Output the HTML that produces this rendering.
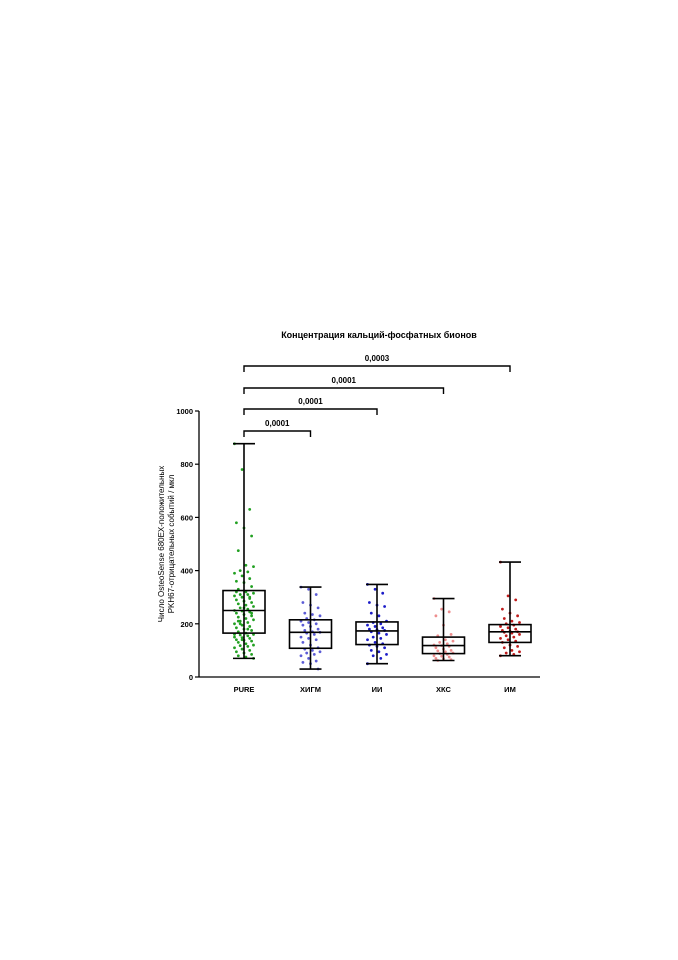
<!DOCTYPE html>
<html><head><meta charset="utf-8">
<style>
html,body{margin:0;padding:0;background:#fff;}
svg{display:block;font-family:"Liberation Sans",sans-serif;}
</style></head>
<body>
<svg id="chart" width="678" height="960" viewBox="0 0 678 960">
<text x="379" y="338" text-anchor="middle" font-size="9" font-weight="bold">Концентрация кальций-фосфатных бионов</text>
<text transform="translate(164,544) rotate(-90)" text-anchor="middle" font-size="8"><tspan x="0" dy="0">Число OsteoSense 680EX-положительных</tspan><tspan x="0" dy="10">PKH67-отрицательных событий / мкл</tspan></text>
<g id="plot"></g>
</svg>
<script>
const categories = ["PURE","ХИГМ","ИИ","ХКС","ИМ"];
const colors = ["#22a022","#5b5bd6","#1c1cc8","#ee8e8e","#c01c1c"];
const mins = [70,30,50,62,80];
const q1s = [165,108,122,88,130];
const medians = [250,168,173,118,170];
const q3s = [325,215,207,150,197];
const maxs = [877,338,348,295,432];
const yTicks = [0,200,400,600,800,1000];
const pure = [877,780,630,580,560,530,475,420,415,400,395,390,380,370,360,355,340,330,320,315,310,310,305,300,295,290,285,280,275,270,265,260,255,250,248,245,240,235,230,225,220,215,210,205,200,195,190,185,180,175,170,165,160,158,155,150,148,145,140,138,135,130,125,120,118,115,110,105,100,95,90,85,80,75,70,200,180,160,140,300,320,260,240,210];
const higm = [338,330,310,280,270,260,240,235,230,220,215,210,205,200,195,190,180,175,170,168,165,160,150,145,140,130,120,110,105,100,95,90,85,80,70,60,55,50,30];
const ii = [348,330,315,280,270,265,240,230,210,205,200,195,190,185,180,178,175,170,165,160,150,145,140,130,125,120,115,110,100,95,85,80,70,50];
const hks = [295,255,245,230,195,160,155,140,135,130,125,120,118,115,110,105,100,98,95,90,88,85,80,78,75,70,68,65,62];
const im = [432,305,290,255,240,230,220,210,205,200,195,190,185,180,175,172,170,168,165,160,155,150,145,140,135,130,120,115,110,100,95,90,85,80];
const pointSets = [pure,higm,ii,hks,im];
const brackets = [[0,1,"0,0001"],[0,2,"0,0001"],[0,3,"0,0001"],[0,4,"0,0003"]];

const NS="http://www.w3.org/2000/svg";
const g=document.getElementById('plot');
const y0=677,y1=411,x0=199,xStart=244,xStep=66.5,hw=21;
const yS=v=>y0-(v/1000)*(y0-y1);
const xS=i=>xStart+i*xStep;
function mk(t,a){const e=document.createElementNS(NS,t);for(const k in a)e.setAttribute(k,a[k]);g.appendChild(e);return e;}
let e=mk('line',{x1:x0,y1:y0,x2:x0,y2:y1,stroke:'#000','stroke-width':1.3});


e=mk('line',{x1:x0,y1:y0,x2:540,y2:y0,stroke:'#000','stroke-width':1.3});


yTicks.forEach(v=>{
  e=mk('line',{x1:x0-4,y1:yS(v),x2:x0,y2:yS(v),stroke:'#000','stroke-width':1.2});
  
  
  e=mk('text',{x:x0-6,y:yS(v)+3,'text-anchor':'end','font-size':7.5,'font-weight':'bold'});
  e.textContent=v;
  
  
});
categories.forEach((c,i)=>{
  const x=xS(i);
  e=mk('text',{x:x,y:y0+15,'text-anchor':'middle','font-size':7.5,'font-weight':'bold'});
  e.textContent=c;
  
  
  pointSets[i].forEach((v,j)=>{
    const off=((j*37)%11-5)*1.9;
    e=mk('circle',{cx:x+off,cy:yS(v),r:1.4,fill:colors[i]});
    
    
  });
  e=mk('line',{x1:x,y1:yS(mins[i]),x2:x,y2:yS(maxs[i]),stroke:'#000','stroke-width':1.6});
  
  
  [mins[i],maxs[i]].forEach(v=>{
    e=mk('line',{x1:x-11,y1:yS(v),x2:x+11,y2:yS(v),stroke:'#000','stroke-width':1.6});
    
    
  });
  e=mk('rect',{x:x-hw,y:yS(q3s[i]),width:2*hw,height:yS(q1s[i])-yS(q3s[i]),fill:'none',stroke:'#000','stroke-width':1.6});
  
  
  e=mk('line',{x1:x-hw,y1:yS(medians[i]),x2:x+hw,y2:yS(medians[i]),stroke:'#000','stroke-width':1.6});
  
  
});
const levels=[431,409,388,366];
brackets.forEach((b,k)=>{
  const xa=xS(b[0]),xb=xS(b[1]),yy=levels[k];
  e=mk('path',{d:`M${xa},${yy+6}V${yy}H${xb}V${yy+6}`,fill:'none',stroke:'#000','stroke-width':1.4});
  
  
  e=mk('text',{x:(xa+xb)/2,y:yy-5,'text-anchor':'middle','font-size':8,'font-weight':'bold'});
  e.textContent=b[2];
  
  
});
</script>
</body></html>
